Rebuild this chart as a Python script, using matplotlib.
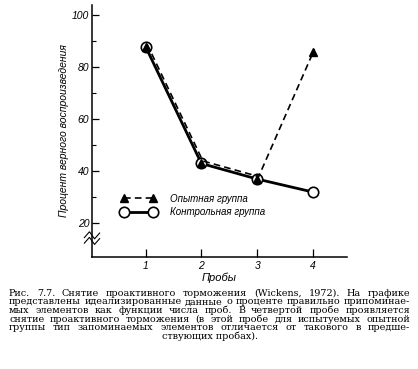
import numpy as np
import matplotlib
matplotlib.use('Agg')
import matplotlib.pyplot as plt
import matplotlib.transforms as mtransforms

# ~~~~~~~~~~ data ~~~~~~~~~~
trials = [1, 2, 3, 4]
exp_group = [88, 43, 37, 86]      # Опытная группа (dashed, triangles)
ctrl_group = [88, 43, 37, 32]     # Контрольная группа (solid, circles)
yticks_major = [20, 40, 60, 80, 100]
yticks_minor = [30, 50, 70, 90]

caption_lines = [
    "Рис. 7.7. Снятие проактивного торможения (Wickens, 1972). На графике",
    "представлены идеализированные данные о проценте правильно припоминае-",
    "мых элементов как функции числа проб. В четвертой пробе проявляется",
    "снятие проактивного торможения (в этой пробе для испытуемых опытной",
    "группы тип запоминаемых элементов отличается от такового в предше-",
    "ствующих пробах).",
]

W, H = 418, 369
fig = plt.figure(figsize=(W / 100, H / 100), dpi=100)
ax = fig.add_axes([92 / W, 1 - 257 / H, (347 - 92) / W, (257 - 5) / H])

lab_font = {'family': 'Liberation Sans', 'style': 'italic', 'size': 7.5}

# control group: solid line, open circles
ax.plot(trials, ctrl_group, '-', color='k', lw=2.0, marker='o', ms=7.5,
        mfc='white', mec='k', mew=1.2, zorder=3)
# experimental group: dashed line shifted a little so it runs beside the solid one
shift = mtransforms.offset_copy(ax.transData, fig=fig, x=1.5, y=2.5, units='dots')
ax.plot(trials, exp_group, '--', color='k', lw=1.2, dashes=(4, 2.5), transform=shift, zorder=4)
ax.plot(trials, exp_group, linestyle='none', marker='^', ms=5.5, color='k', zorder=5)
# legend handles
h_exp, = ax.plot([], [], '--', color='k', lw=1.2, dashes=(4, 2.5), marker='^', ms=5.5)
h_ctrl, = ax.plot([], [], '-', color='k', lw=2.0, marker='o', ms=7.5, mfc='white', mec='k', mew=1.2)
leg = ax.legend([h_exp, h_ctrl], ['Опытная группа', 'Контрольная группа'], numpoints=2,
                handlelength=3.6, handletextpad=1.4, labelspacing=0.35, frameon=False,
                loc='center left', bbox_to_anchor=(0.08, 0.205),
                prop={'family': 'Liberation Sans', 'style': 'italic', 'size': 7})

ax.set_xlim(0.04, 4.61)
ax.set_ylim(7, 104)
ax.spines['top'].set_visible(False)
ax.spines['right'].set_visible(False)
ax.spines['left'].set_linewidth(1.1)
ax.spines['bottom'].set_linewidth(1.1)

ax.set_xticks(trials)
ax.set_xticklabels([str(t) for t in trials], fontdict=lab_font)
ax.set_yticks(yticks_major)
ax.set_yticklabels([str(v) for v in yticks_major], fontdict=lab_font)
ax.set_yticks(yticks_minor, minor=True)
ax.tick_params(axis='both', which='major', direction='in', length=5, width=0.9, pad=2)
ax.tick_params(axis='y', which='minor', direction='in', length=3, width=0.8)
ax.tick_params(axis='x', which='major', direction='in', length=6, pad=3)

ax.set_xlabel('Пробы', fontdict={'family': 'Liberation Sans', 'style': 'italic', 'size': 8}, labelpad=1)
ax.set_ylabel('Процент верного воспроизведения',
              fontdict={'family': 'Liberation Sans', 'style': 'italic', 'size': 7.5}, labelpad=2)

# axis break mark
bx = np.array([-0.03, -0.01, 0.01, 0.03])
for dy in [0.0, 0.022]:
    by = np.array([0.055, 0.078, 0.05, 0.073]) + dy
    ax.plot(bx, by, color='k', lw=0.8, transform=ax.transAxes, clip_on=False)

# ~~~~~~~~~~ caption, justified by hand ~~~~~~~~~~
cap_font = dict(family='DejaVu Serif', size=6.9, color='k', va='baseline')
x0, x1 = 9, 410
fig.canvas.draw()
renderer = fig.canvas.get_renderer()
for i, line in enumerate(caption_lines):
    y = 1 - (295.5 + i * 8.75) / H
    if i == len(caption_lines) - 1:
        fig.text((x0 + x1) / 2 / W, y, line, ha='center', **cap_font)
        continue
    words = line.split()
    ts = [fig.text(0, y, w, ha='left', **cap_font) for w in words]
    widths = [t.get_window_extent(renderer).width for t in ts]
    gap = max((x1 - x0 - sum(widths)) / (len(words) - 1), 2)
    x = x0
    for t, w in zip(ts, widths):
        t.set_x(x / W)
        x += w + gap

fig.savefig('out.png', dpi=100)
plt.close()
